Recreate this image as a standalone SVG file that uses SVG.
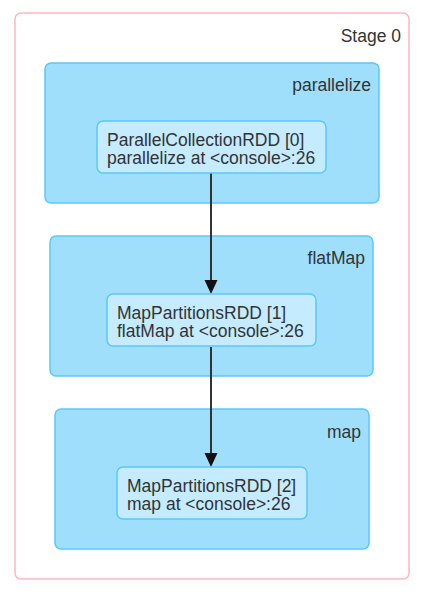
<svg xmlns="http://www.w3.org/2000/svg" width="436" height="599" viewBox="0 0 436 599">
<style>
text{font-family:"Liberation Sans",Arial,sans-serif;font-size:17.5px;fill:#333}
.stage{fill:#fff;stroke:#ffb6c1;stroke-width:1.5}
.cluster{fill:#a0dffc;stroke:#5bc8f8;stroke-width:1.5}
.node{fill:#c4ebff;stroke:#5bc8f8;stroke-width:1.5}
.edge{stroke:#333;stroke-width:2;fill:none}
.head{fill:#111}
</style>
<g id="stage0">
<rect class="stage" x="15" y="13" width="394" height="566" rx="6"/>
<text x="401" y="42" text-anchor="end">Stage 0</text>
</g>
<g id="cluster-parallelize">
<rect class="cluster" x="45" y="63" width="334" height="140" rx="6"/>
<text x="371" y="91" text-anchor="end">parallelize</text>
</g>
<g id="cluster-flatMap">
<rect class="cluster" x="50" y="236" width="323" height="140" rx="6"/>
<text x="365" y="264" text-anchor="end">flatMap</text>
</g>
<g id="cluster-map">
<rect class="cluster" x="55" y="409" width="314" height="140" rx="6"/>
<text x="361" y="438" text-anchor="end">map</text>
</g>
<g id="connectors">
<path class="edge" d="M211,173V281"/>
<path class="edge" d="M211,347V454"/>
<path class="head" d="M204.5,280L211,294L217.5,280z"/>
<path class="head" d="M204.5,453L211,467L217.5,453z"/>
</g>
<g id="node0">
<rect class="node" x="97" y="121" width="229" height="52" rx="6"/>
<text x="107" y="146">ParallelCollectionRDD [0]</text>
<text x="107" y="164">parallelize at &lt;console&gt;:26</text>
</g>
<g id="node1">
<rect class="node" x="107" y="294" width="209" height="52" rx="6"/>
<text x="117" y="319">MapPartitionsRDD [1]</text>
<text x="117" y="337">flatMap at &lt;console&gt;:26</text>
</g>
<g id="node2">
<rect class="node" x="117" y="467" width="190" height="52" rx="6"/>
<text x="127" y="492">MapPartitionsRDD [2]</text>
<text x="127" y="510">map at &lt;console&gt;:26</text>
</g>
</svg>
